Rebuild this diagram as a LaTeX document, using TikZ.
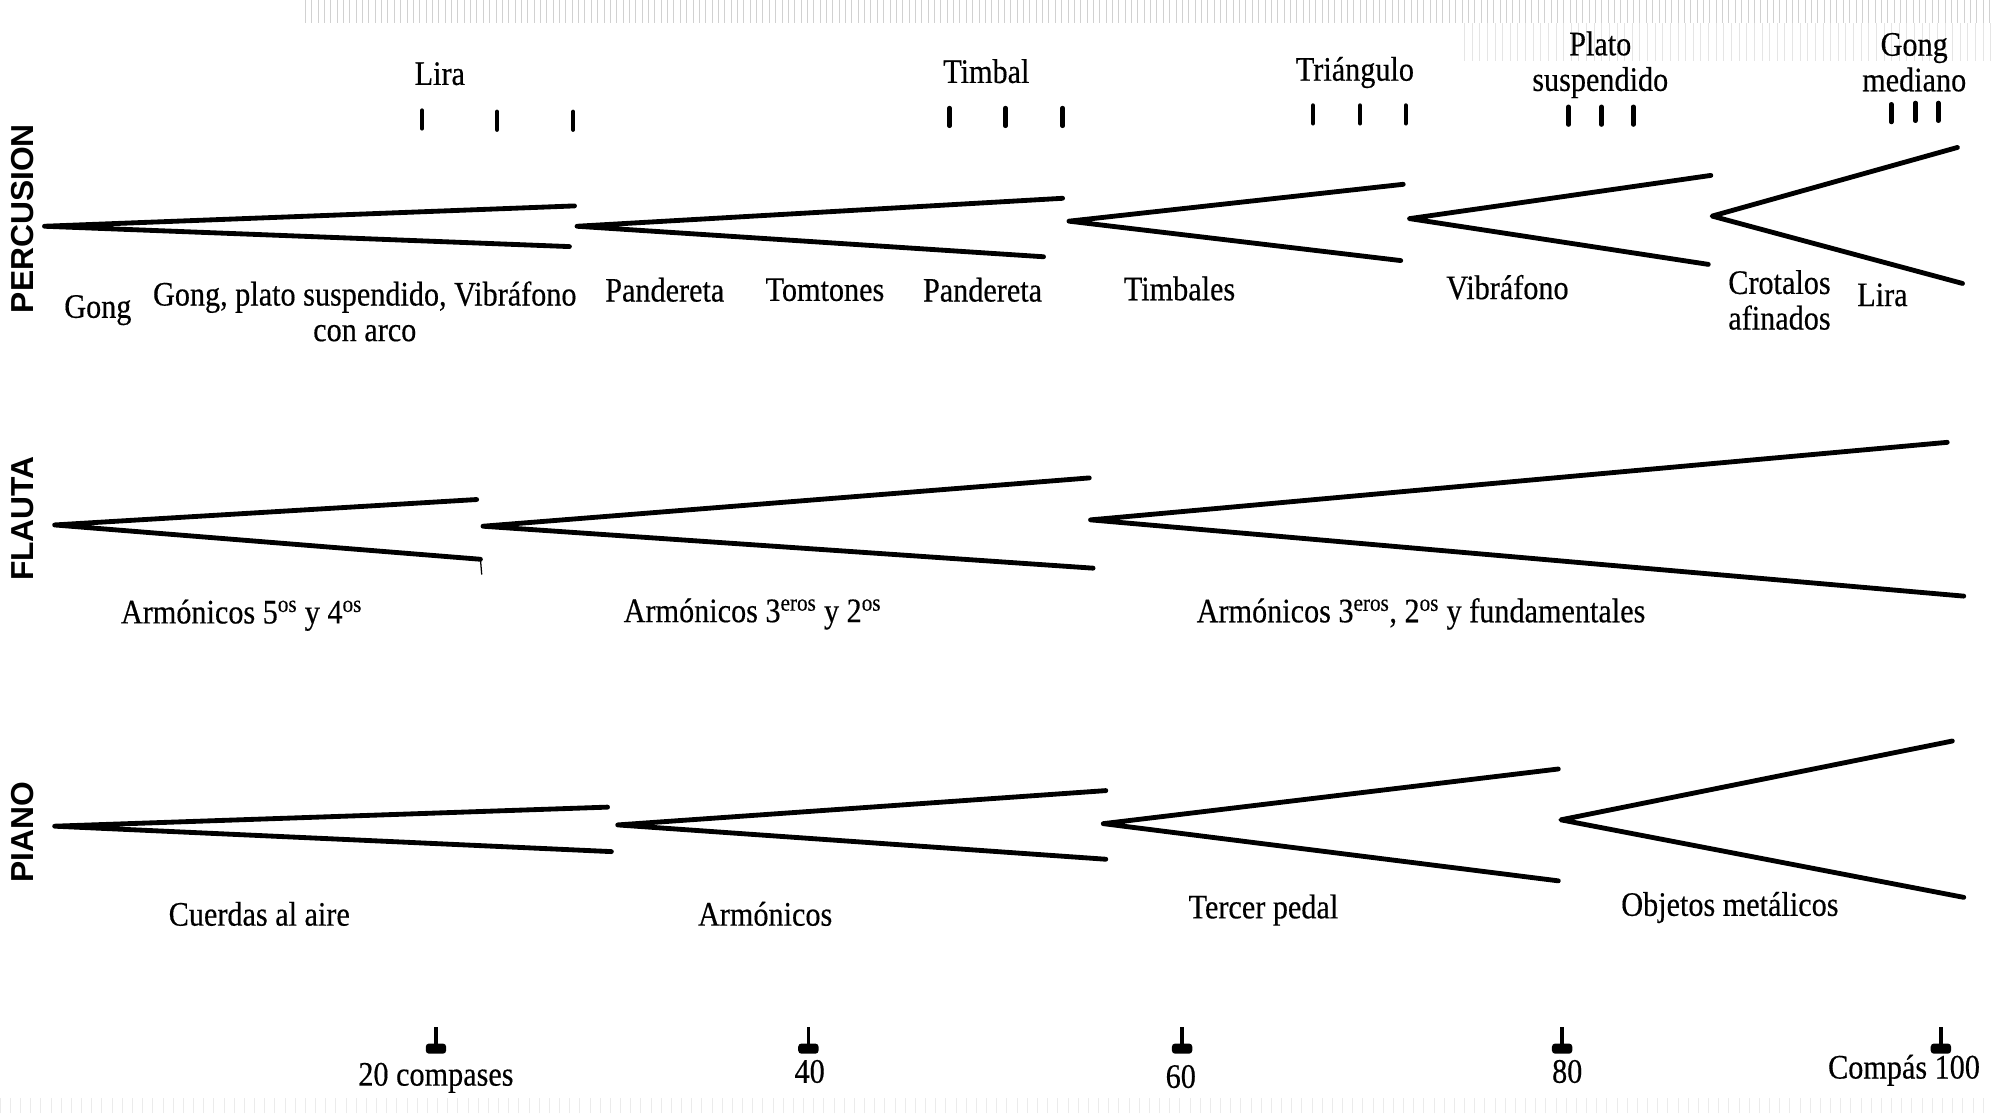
\documentclass[tikz,border=0pt]{standalone}
\usepackage{fontspec}
\setmainfont{Liberation Serif}[FakeStretch=0.88, FakeBold=0.4]
\newfontfamily\instrfont{Liberation Sans}
\begin{document}
\begin{tikzpicture}[
        x=1pt, y=-1pt,
        every node/.style={font=\fontsize{27}{28}\selectfont, inner sep=0pt, align=center},
        wedge/.style={draw=black, line width=3.8pt, line cap=round, line join=round},
        hit/.style={draw=black, line width=3.5pt, line cap=round},
        instr/.style={font=\instrfont\bfseries\fontsize{25}{25}\selectfont, rotate=90},
        gridline/.style={draw=black!18, line width=0.3pt}
    ]
    \useasboundingbox (0,0) rectangle (1568,876);

    % squared paper showing at the edges
    \draw[gridline] (240,0) grid[step=5] (1568,18);
    \draw[gridline, draw=black!10] (1150,18) grid[step=6] (1568,48);
    \draw[gridline, draw=black!8] (0,864) grid[step=8] (1568,876);

    % instruments
    \node[instr] (percusion) at (18,172) {PERCUSION};
    \node[instr] (flauta) at (18,408) {FLAUTA};
    \node[instr] (piano) at (18,655) {PIANO};

    % wedges: name / apex / upper end / lower end
    \foreach \n/\ax/\ay/\ux/\uy/\lx/\ly in {
            pw1/35/178/452/162/448/194,
            pw2/454/178/836/156/821/202,
            pw3/841/174/1104/145/1102/205,
            pw4/1109/172/1346/138/1344/208,
            pw5/1347/170/1540/116/1544/223,
            fw1/43/413/375/393/378/440,
            fw2/380/414/857/376/860/447,
            fw3/858/409/1532/348/1545/469,
            nw1/43/650/478/635/481/670,
            nw2/486/649/870/622/870/676,
            nw3/868/648/1226/605/1226/693,
            nw4/1228/645/1536/583/1545/706} {
        \coordinate (\n-a) at (\ax,\ay);
        \coordinate (\n-u) at (\ux,\uy);
        \coordinate (\n-l) at (\lx,\ly);
        \draw[wedge] (\n-u) -- (\n-a) -- (\n-l);
    }
    \coordinate (fw1-h) at (379,452);
    \draw[line width=1pt] (fw1-l) -- (fw1-h);

    % strokes over the percussion line
    \foreach \x/\y in {332/87, 391/88, 451/88, 747/85, 791/85, 836/85,
            1033/83, 1070/83, 1106/83, 1234/84, 1260/84, 1285/84,
            1488/82, 1507/81, 1525/81} {
        \draw[hit] (\x,\y) -- (\x,\y+14);
    }

    % percussion labels
    \node (lira) at (346,58) {Lira};
    \node (timbal) at (776,56) {Timbal};
    \node (triangulo) at (1066,57) {Triángulo};
    \node (plato) at (1259,51) {Plato\\suspendido};
    \node (gongmed) at (1506,49) {Gong\\mediano};
    \node (gong) at (77,244) {Gong};
    \node (gongarco) at (287,245) {Gong, plato suspendido, Vibráfono\\con arco};
    \node (pand1) at (523,228) {Pandereta};
    \node (tomtones) at (649,228) {Tomtones};
    \node (pand2) at (773,228) {Pandereta};
    \node (timbales) at (928,227) {Timbales};
    \node (vibra) at (1186,226) {Vibráfono};
    \node (crotalos) at (1400,236) {Crotalos\\afinados};
    \node (lira2) at (1481,232) {Lira};

    % flute labels
    \node (arm54) at (190,484) {Armónicos 5\textsuperscript{os} y 4\textsuperscript{os}};
    \node (arm32) at (592,483) {Armónicos 3\textsuperscript{eros} y 2\textsuperscript{os}};
    \node (armfund) at (1118,483) {Armónicos 3\textsuperscript{eros}, 2\textsuperscript{os} y fundamentales};

    % piano labels
    \node (cuerdas) at (204,719) {Cuerdas al aire};
    \node (armpiano) at (602,719) {Armónicos};
    \node (tercer) at (994,716) {Tercer pedal};
    \node (objetos) at (1361,714) {Objetos metálicos};

    % bar count
    \foreach \x in {343, 636, 930, 1229, 1527} {
        \draw[line width=2.8pt] (\x,808) -- (\x,824);
        \fill[rounded corners=2.5pt] (\x-8,821) rectangle (\x+8,829);
    }
    \node (c20) at (343,848) {20 compases};
    \node (c40) at (637,843) {40};
    \node (c60) at (929,847) {60};
    \node (c80) at (1233,843) {80};
    \node (c100) at (1498,842) {Compás 100};
\end{tikzpicture}
\end{document}
